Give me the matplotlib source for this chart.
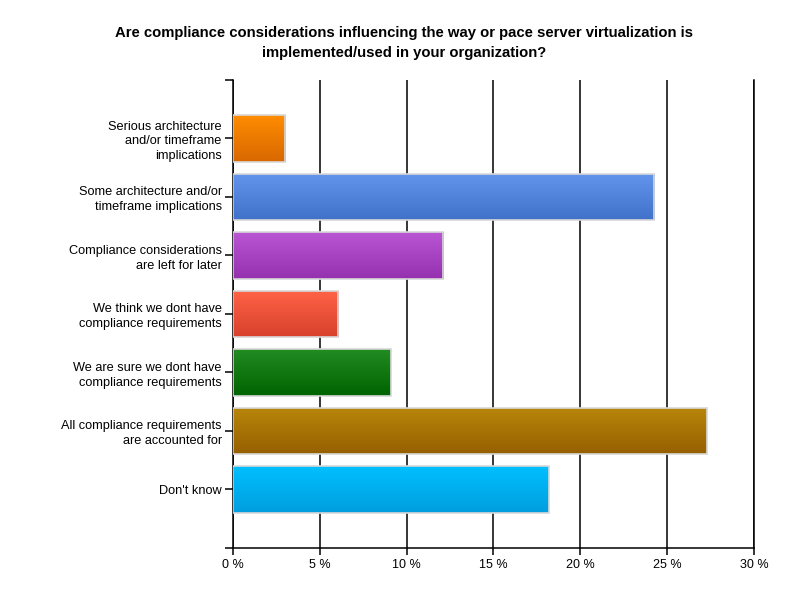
import matplotlib.pyplot as plt
import numpy as np
from matplotlib.colors import LinearSegmentedColormap

plt.rcParams["font.family"] = ["Liberation Sans", "DejaVu Sans"]

categories = [
    "Serious architecture\nand/or timeframe\nimplications",
    "Some architecture and/or\ntimeframe implications",
    "Compliance considerations\nare left for later",
    "We think we dont have\ncompliance requirements",
    "We are sure we dont have\ncompliance requirements",
    "All compliance requirements\nare accounted for",
    "Don't know",
]
percent = [3.03, 24.24, 12.12, 6.06, 9.09, 27.27, 18.18]
top_colors = ["#ff8c00", "#6495ed", "#ba55d3", "#ff6347", "#228b22", "#b8860b", "#00bfff"]
bottom_colors = ["#d86800", "#3f72c8", "#9530ae", "#d8412c", "#006400", "#966000", "#009ede"]
x_ticks = [0, 5, 10, 15, 20, 25, 30]

fig = plt.figure(figsize=(8, 6), dpi=100)
ax = fig.add_axes([0.291, 0.0867, 0.6515, 0.78])

y = np.arange(len(categories))
bar_h = 0.79
bars = ax.barh(y, percent, height=bar_h, color="none", edgecolor="#d8d8d8",
               linewidth=1.2, zorder=3)

# vertical gradient inside each bar
grad = np.linspace(0, 1, 64).reshape(-1, 1)
for bar, c1, c2 in zip(bars, top_colors, bottom_colors):
    cmap = LinearSegmentedColormap.from_list("g", [c1, c2])
    x0, y0 = bar.get_x(), bar.get_y()
    w, h = bar.get_width(), bar.get_height()
    im = ax.imshow(grad, cmap=cmap, aspect="auto", origin="upper",
                   extent=(x0, x0 + w, y0 + h, y0), zorder=2, interpolation="bilinear")
    im.set_clip_path(bar)

ax.set_xlim(0, 30)
ax.set_ylim(len(categories), -1)
ax.set_xticks(x_ticks)
ax.set_xticklabels([f"{t} %" for t in x_ticks])
ax.set_yticks(y)
ax.set_yticklabels(categories, linespacing=1.32)
ax.set_yticks([-1, len(categories)], minor=True)

ax.grid(axis="x", color="black", linewidth=1.1, zorder=1)
ax.set_axisbelow(True)
ax.spines["top"].set_visible(False)
for side in ["left", "bottom", "right"]:
    ax.spines[side].set_linewidth(1.1)

ax.tick_params(axis="y", which="both", length=6, width=1.1, pad=2, labelsize=9.2)
ax.tick_params(axis="x", length=5, width=1.1, pad=3, labelsize=9)

fig.text(0.505, 0.9285, "Are compliance considerations influencing the way or pace server virtualization is\nimplemented/used in your organization?",
         ha="center", va="center", fontsize=10.7, fontweight="bold", linespacing=1.5)

fig.savefig("out.png", dpi=100)
